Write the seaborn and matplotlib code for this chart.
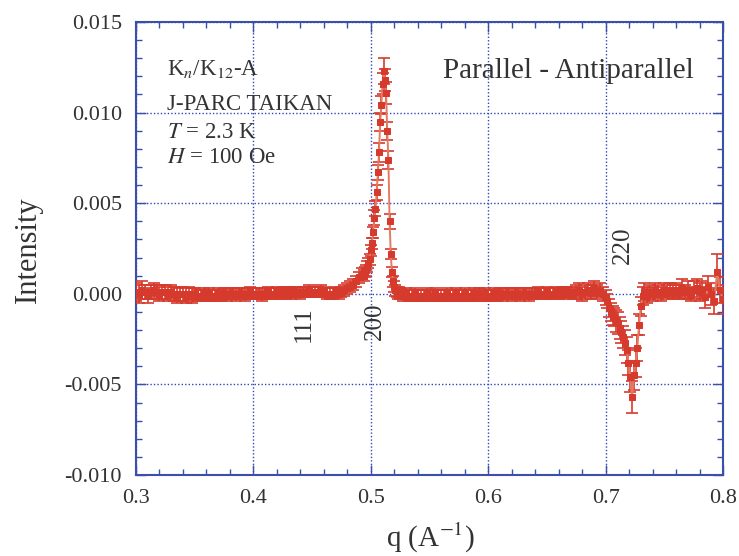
import numpy as np
import pandas as pd
import matplotlib
matplotlib.use("Agg")
import matplotlib.pyplot as plt
import seaborn as sns
from matplotlib.ticker import MultipleLocator, FormatStrFormatter

# ---------------- data (intensity & errors in units of 1e-4) ----------------
q_low = [0.3000, 0.3025, 0.3050, 0.3075, 0.3100, 0.3125, 0.3150, 0.3175, 0.3200, 0.3225,
         0.3250, 0.3275, 0.3300, 0.3325, 0.3350, 0.3375, 0.3400, 0.3425, 0.3450, 0.3475,
         0.3500, 0.3525, 0.3550, 0.3575, 0.3600, 0.3625, 0.3650, 0.3675, 0.3700, 0.3725,
         0.3750, 0.3775, 0.3800, 0.3825, 0.3850, 0.3875, 0.3900, 0.3925, 0.3950, 0.3975,
         0.4000, 0.4025, 0.4050, 0.4075, 0.4100, 0.4125, 0.4150, 0.4175, 0.4200, 0.4225,
         0.4250, 0.4275, 0.4300, 0.4325, 0.4350, 0.4375, 0.4400, 0.4425, 0.4450, 0.4475,
         0.4500, 0.4525, 0.4550, 0.4575, 0.4600, 0.4625, 0.4650, 0.4675, 0.4700, 0.4725,
         0.4750, 0.4775, 0.4800, 0.4825, 0.4850, 0.4875, 0.4900, 0.4925]
i_low = [1, 0, 2, 1, -1, 1, 2, 1, 0, 1,
         1, 0, 1, 0, -1, 0, 0, -1, 0, -1,
         0, -1, -1, 0, -1, 0, -1, -1, 0, -1,
         0, -1, 0, 0, -1, 0, 0, -1, 0, 1,
         0, 0, 0, -1, 0, 1, 0, 0, 1, 0,
         1, 0, 1, 0, 1, 1, 0, 1, 1, 2,
         1, 1, 1, 2, 1, 0, 0, 0, 1, 0,
         1, 2, 3, 4, 5, 7, 9, 11]
e_low = [5, 5, 5, 4, 4, 4, 4, 4, 4, 4,
         4, 4, 4, 4, 4, 4, 4, 4, 4, 4,
         3, 3, 3, 3, 3, 3, 3, 3, 3, 3,
         3, 3, 3, 3, 3, 3, 3, 3, 3, 3,
         3, 3, 3, 3, 3, 3, 3, 3, 3, 3,
         3, 3, 3, 3, 3, 3, 3, 3, 3, 3,
         3, 3, 3, 3, 3, 3, 3, 3, 3, 3,
         3, 3, 3, 3, 3, 3, 3, 3]

q_peak = [0.494, 0.495, 0.496, 0.497, 0.498, 0.499, 0.500, 0.501, 0.502, 0.503,
          0.504, 0.505, 0.506, 0.507, 0.508, 0.509, 0.510, 0.511, 0.512, 0.513,
          0.514, 0.515, 0.516, 0.517, 0.518, 0.519, 0.520, 0.521, 0.522, 0.523, 0.524]
i_peak = [10, 12, 13, 15, 17, 19, 24, 28, 34, 42,
          47, 56, 67, 78, 95, 104, 116, 123, 118, 111,
          90, 74, 40, 22, 12, 7, 4, 2, 1, 0, 1]
e_peak = [3, 3, 3, 3, 3, 3, 3, 3, 3, 4,
          4, 4, 4, 5, 5, 5, 6, 7, 6, 6,
          5, 5, 4, 3, 3, 3, 3, 3, 3, 3, 3]

q_mid = [0.5250, 0.5275, 0.5300, 0.5325, 0.5350, 0.5375, 0.5400, 0.5425, 0.5450, 0.5475,
         0.5500, 0.5525, 0.5550, 0.5575, 0.5600, 0.5625, 0.5650, 0.5675, 0.5700, 0.5725,
         0.5750, 0.5775, 0.5800, 0.5825, 0.5850, 0.5875, 0.5900, 0.5925, 0.5950, 0.5975,
         0.6000, 0.6025, 0.6050, 0.6075, 0.6100, 0.6125, 0.6150, 0.6175, 0.6200, 0.6225,
         0.6250, 0.6275, 0.6300, 0.6325, 0.6350, 0.6375, 0.6400, 0.6425, 0.6450, 0.6475,
         0.6500, 0.6525, 0.6550, 0.6575, 0.6600, 0.6625, 0.6650, 0.6675, 0.6700, 0.6725,
         0.6750, 0.6775, 0.6800, 0.6825, 0.6850, 0.6875, 0.6900, 0.6925, 0.6950, 0.6975]
i_mid = [0, -1, 0, -1, -1, 0, -1, -1, -1, 0,
         -1, -1, 0, -1, -1, -1, 0, -1, -1, 0,
         -1, -1, 0, -1, -1, 0, -1, 0, -1, 0,
         -1, -1, 0, -1, 0, -1, 0, 0, -1, 0,
         0, -1, 0, 0, -1, 0, 0, 1, 0, 0,
         1, 0, 0, 1, 0, 1, 0, 1, 1, 0,
         1, 2, 0, 1, 2, 1, 3, 1, 2, 0]
e_mid = [3, 3, 3, 3, 3, 3, 3, 3, 3, 3,
         3, 3, 3, 3, 3, 3, 3, 3, 3, 3,
         3, 3, 3, 3, 3, 3, 3, 3, 3, 3,
         3, 3, 3, 3, 3, 3, 3, 3, 3, 3,
         3, 3, 3, 3, 3, 3, 3, 3, 3, 3,
         3, 3, 3, 3, 3, 3, 3, 3, 3, 3,
         4, 4, 4, 4, 4, 4, 4, 4, 4, 4]

q_dip = [0.7000, 0.7015, 0.7030, 0.7045, 0.7060, 0.7075, 0.7090, 0.7105, 0.7120, 0.7135,
         0.7150, 0.7165, 0.7180, 0.7195, 0.7210, 0.7225, 0.7240, 0.7255, 0.7270, 0.7285,
         0.7300, 0.7315, 0.7330]
i_dip = [-2, -4, -8, -10, -12, -13, -15, -16, -19, -21,
         -24, -27, -31, -38, -46, -57, -45, -38, -30, -17,
         -7, -1, 1]
e_dip = [4, 4, 5, 5, 5, 5, 6, 6, 6, 6,
         6, 7, 7, 7, 8, 9, 8, 8, 7, 6,
         5, 5, 5]

q_high = [0.7350, 0.7375, 0.7400, 0.7425, 0.7450, 0.7475, 0.7500, 0.7525, 0.7550, 0.7575,
          0.7600, 0.7625, 0.7650, 0.7675, 0.7700, 0.7725, 0.7750, 0.7775, 0.7800, 0.7825,
          0.7850, 0.7875, 0.7900, 0.7925, 0.7950, 0.7975, 0.8000]
i_high = [-1, 1, 0, 2, 1, 0, 2, 1, 2, 1,
          2, 1, 3, 1, 2, 0, 2, 3, 1, 2,
          -2, 4, 0, -4, 12, 2, -3]
e_high = [4, 4, 4, 4, 4, 4, 4, 4, 4, 4,
          4, 4, 5, 4, 5, 4, 5, 5, 5, 5,
          6, 6, 6, 7, 10, 7, 8]

x_ticks = [0.3, 0.4, 0.5, 0.6, 0.7, 0.8]
y_ticks = [-0.010, -0.005, 0.000, 0.005, 0.010, 0.015]

# ---------------- style ----------------
sns.set_theme(style="ticks")
plt.rcParams["font.family"] = ["Liberation Serif", "DejaVu Serif"]
plt.rcParams["mathtext.fontset"] = "stix"
plt.rcParams["axes.unicode_minus"] = False

RED = "#d63a2c"
LINE = "#e57a62"
BLUE = "#3a4fa8"
GRID = "#3344bb"
TXT = "#333333"

df = pd.DataFrame({
    "q": q_low + q_peak + q_mid + q_dip + q_high,
    "I": np.array(i_low + i_peak + i_mid + i_dip + i_high) * 1e-4,
    "err": np.array(e_low + e_peak + e_mid + e_dip + e_high) * 1e-4,
})

W, H = 739, 556
fig = plt.figure(figsize=(W / 100, H / 100), dpi=100)
ax = fig.add_axes([136 / W, 1 - 475 / H, 587 / W, 453 / H])

ax.errorbar(df["q"], df["I"], yerr=df["err"], fmt="none", ecolor=RED,
            elinewidth=1.2, capsize=4, capthick=1.2, zorder=3)
sns.lineplot(data=df, x="q", y="I", ax=ax, color=LINE, linewidth=1.4,
             marker="s", markersize=5, markerfacecolor=RED, markeredgecolor=RED,
             errorbar=None, sort=False, zorder=4)

ax.set_xlim(0.3, 0.8)
ax.set_ylim(-0.010, 0.015)
ax.set_xticks(x_ticks)
ax.set_yticks(y_ticks)
ax.xaxis.set_minor_locator(MultipleLocator(0.02))
ax.yaxis.set_minor_locator(MultipleLocator(0.001))
ax.xaxis.set_major_formatter(FormatStrFormatter("%.1f"))
ax.yaxis.set_major_formatter(FormatStrFormatter("%.3f"))
ax.grid(True, which="major", color=GRID, linestyle=(0, (1, 1.5)), linewidth=1.0)
ax.set_axisbelow(True)
ax.tick_params(which="both", direction="in", top=True, right=True,
               color=BLUE, labelcolor=TXT, labelsize=16)
ax.tick_params(which="major", length=7, width=1.0, pad=10)
ax.tick_params(which="minor", length=4, width=1.0)
for s in ax.spines.values():
    s.set_color(BLUE)
    s.set_linewidth(1.5)
ax.set_xlabel("")
ax.set_ylabel("")

fig.text(28 / W, 1 - 250 / H, "Intensity", rotation=90, ha="center", va="center",
         fontsize=22, color=TXT)
fig.text(430 / W, 1 - 538 / H, "q (A$^{-1}$)", ha="center", va="center",
         fontsize=21, color=TXT)

# info text
info = [r"K$_{\mathit{n}}$/K$_{12}$-A", "J-PARC TAIKAN", r"$T$ = 2.3 K", r"$H$ = 100 Oe"]
baselines = [75, 110, 138, 163]
for s, b in zip(info, baselines):
    fig.text(167 / W, 1 - b / H, s, ha="left", va="baseline", fontsize=16.5, color=TXT)
fig.text(443 / W, 1 - 78 / H, "Parallel - Antiparallel", ha="left", va="baseline",
         fontsize=21, color=TXT)

# peak labels
ax.text(0.443, -0.0017, "111", rotation=90, ha="center", va="center", fontsize=18, color=TXT)
ax.text(0.5035, -0.0015, "200", rotation=90, ha="center", va="center", fontsize=18, color=TXT)
ax.text(0.7145, 0.0027, "220", rotation=90, ha="center", va="center", fontsize=18, color=TXT)

fig.savefig("out.png", dpi=100)
